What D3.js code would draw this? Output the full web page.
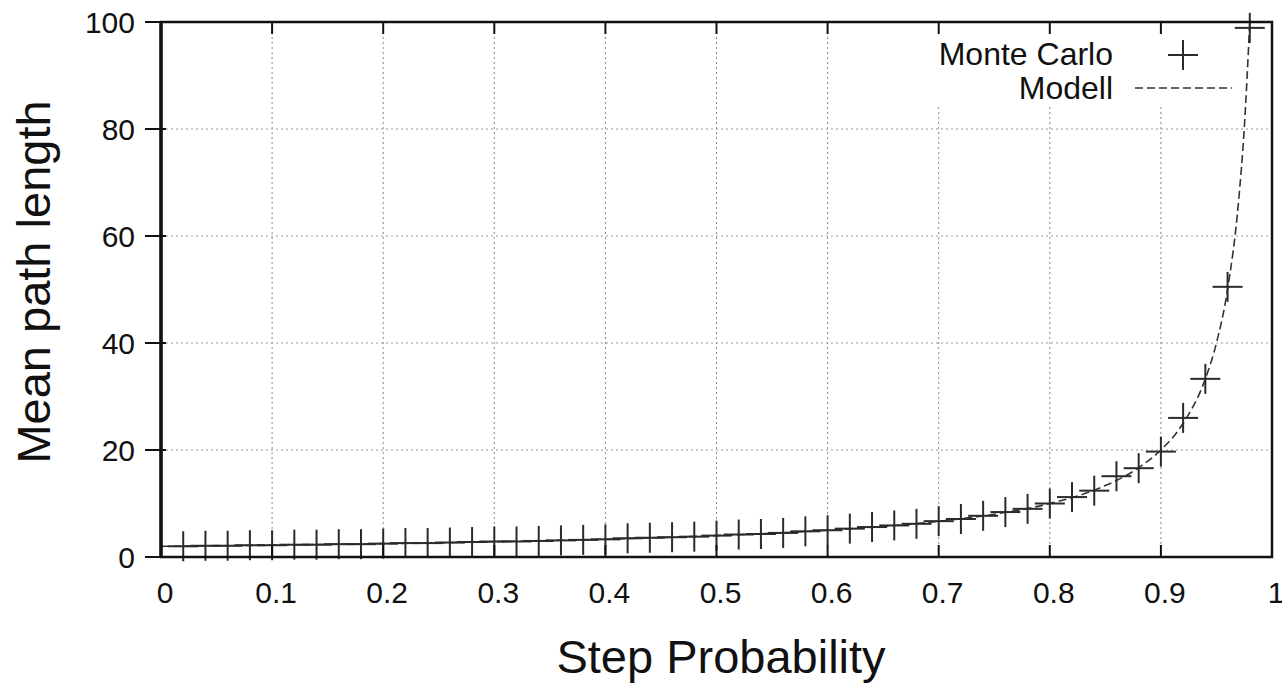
<!DOCTYPE html>
<html>
<head>
<meta charset="utf-8">
<script src="https://cdn.jsdelivr.net/npm/d3@7"></script>
<style>
  body { margin: 0; background: #fff; }
  text { font-family: "Liberation Sans", Arial, sans-serif; fill: #111; }
</style>
</head>
<body>
<div id="chart"></div>
<script>
// Monte Carlo estimates
const mcP = [0.02, 0.04, 0.06, 0.08, 0.10, 0.12, 0.14, 0.16, 0.18, 0.20,
             0.22, 0.24, 0.26, 0.28, 0.30, 0.32, 0.34, 0.36, 0.38, 0.40,
             0.42, 0.44, 0.46, 0.48, 0.50, 0.52, 0.54, 0.56, 0.58, 0.60,
             0.62, 0.64, 0.66, 0.68, 0.70, 0.72, 0.74, 0.76, 0.78, 0.80,
             0.82, 0.84, 0.86, 0.88, 0.90, 0.92, 0.94, 0.96, 0.98];
const mcLen = [2.0, 2.1, 2.1, 2.2, 2.2, 2.3, 2.3, 2.4, 2.4, 2.5,
               2.6, 2.6, 2.7, 2.8, 2.9, 2.9, 3.0, 3.1, 3.2, 3.3,
               3.5, 3.6, 3.7, 3.8, 4.0, 4.2, 4.3, 4.5, 4.8, 5.0,
               5.3, 5.6, 5.9, 6.2, 6.7, 7.1, 7.7, 8.4, 9.0, 10.0,
               11.2, 12.4, 15.1, 16.6, 19.7, 26.0, 33.3, 50.5, 98.9];

// Model curve
const modelP = [0, 0.1, 0.2, 0.3, 0.4, 0.5, 0.6, 0.65, 0.7, 0.75, 0.8, 0.84,
                0.88, 0.9, 0.92, 0.94, 0.95, 0.96, 0.97, 0.975, 0.98];
const modelLen = [2, 2.22, 2.5, 2.86, 3.33, 4, 5, 5.71, 6.67, 8, 10, 12.5,
                  16.7, 20, 25, 33.3, 40, 50, 66.7, 80, 100];

const xTicks = [0, 0.1, 0.2, 0.3, 0.4, 0.5, 0.6, 0.7, 0.8, 0.9, 1];
const yTicks = [0, 20, 40, 60, 80, 100];
const seriesNames = ["Monte Carlo", "Modell"];

const width = 1282, height = 683;
const margin = { top: 22, right: 10, bottom: 126, left: 161 };
const w = width - margin.left - margin.right;   // 1111
const h = height - margin.top - margin.bottom;  // 535

const svg = d3.select("#chart").append("svg")
    .attr("width", width)
    .attr("height", height);

const g = svg.append("g")
    .attr("transform", `translate(${margin.left},${margin.top})`);

const x = d3.scaleLinear().domain([0, 1]).range([0, w]);
const y = d3.scaleLinear().domain([0, 100]).range([h, 0]);

g.append("clipPath").attr("id", "plotclip")
  .append("rect").attr("width", w).attr("height", h);

// grid
g.selectAll(".vgrid")
    .data(xTicks.slice(1, -1))
    .enter().append("line")
    .attr("x1", d => x(d)).attr("x2", d => x(d))
    .attr("y1", 0).attr("y2", h)
    .attr("stroke", "#888").attr("stroke-width", 1)
    .attr("stroke-dasharray", "2,3");

g.selectAll(".hgrid")
    .data(yTicks.slice(1, -1))
    .enter().append("line")
    .attr("x1", 0).attr("x2", w)
    .attr("y1", d => y(d)).attr("y2", d => y(d))
    .attr("stroke", "#999").attr("stroke-width", 1)
    .attr("stroke-dasharray", "2,3");

// legend background hides the grid behind the key
g.append("rect")
    .attr("x", x(0.685)).attr("y", 1)
    .attr("width", x(0.985) - x(0.685)).attr("height", 82)
    .attr("fill", "#fff");

// model curve
const line = d3.line()
    .x((d, i) => x(modelP[i]))
    .y(d => y(d))
    .curve(d3.curveMonotoneX);

g.append("path")
    .datum(modelLen)
    .attr("clip-path", "url(#plotclip)")
    .attr("d", line)
    .attr("fill", "none")
    .attr("stroke", "#333")
    .attr("stroke-width", 1.6)
    .attr("stroke-dasharray", "8,4");

// monte carlo crosses
const arm = 15;
const crosses = g.selectAll(".mc")
    .data(mcLen)
    .enter().append("g")
    .attr("transform", (d, i) => `translate(${x(mcP[i])},${y(d)})`);
crosses.append("line").attr("x1", -arm).attr("x2", arm).attr("y1", 0).attr("y2", 0);
crosses.append("line").attr("x1", 0).attr("x2", 0).attr("y1", -arm).attr("y2", arm);
crosses.selectAll("line").attr("stroke", "#2a2a2a").attr("stroke-width", 2);

// ticks: x inward on top and bottom, y crossing the left axis
g.selectAll(".xtb")
    .data(xTicks.slice(1, -1))
    .enter().append("line")
    .attr("x1", d => x(d)).attr("x2", d => x(d))
    .attr("y1", h).attr("y2", h - 12)
    .attr("stroke", "#111").attr("stroke-width", 2);
g.selectAll(".xtt")
    .data(xTicks.slice(1, -1))
    .enter().append("line")
    .attr("x1", d => x(d)).attr("x2", d => x(d))
    .attr("y1", 0).attr("y2", 12)
    .attr("stroke", "#111").attr("stroke-width", 2);
g.selectAll(".yt")
    .data(yTicks)
    .enter().append("line")
    .attr("x1", -16).attr("x2", 5)
    .attr("y1", d => y(d)).attr("y2", d => y(d))
    .attr("stroke", "#111").attr("stroke-width", 2);

// frame
g.append("rect")
    .attr("width", w).attr("height", h)
    .attr("fill", "none")
    .attr("stroke", "#111")
    .attr("stroke-width", 2.5);
g.append("line")
    .attr("x1", 0).attr("x2", 0).attr("y1", 0).attr("y2", h)
    .attr("stroke", "#111").attr("stroke-width", 3.5);

// tick labels
g.selectAll(".xl")
    .data(xTicks)
    .enter().append("text")
    .attr("x", d => x(d) + 4)
    .attr("y", h + 46)
    .attr("text-anchor", "middle")
    .attr("font-size", 30)
    .text(d => d3.format("")(d));

g.selectAll(".yl")
    .data(yTicks)
    .enter().append("text")
    .attr("x", -26)
    .attr("y", d => y(d))
    .attr("dy", "0.35em")
    .attr("text-anchor", "end")
    .attr("font-size", 30)
    .text(d => d);

// axis titles
svg.append("text")
    .attr("x", 721).attr("y", 673)
    .attr("text-anchor", "middle")
    .attr("font-size", 47)
    .text("Step Probability");

svg.append("text")
    .attr("transform", "translate(50,282) rotate(-90)")
    .attr("text-anchor", "middle")
    .attr("font-size", 47)
    .text("Mean path length");

// legend
const legend = svg.append("g");
legend.selectAll("text")
    .data(seriesNames)
    .enter().append("text")
    .attr("x", 1113)
    .attr("y", (d, i) => 65 + i * 34)
    .attr("text-anchor", "end")
    .attr("font-size", 32)
    .text(d => d);

const key = legend.append("g").attr("transform", "translate(1183,55)");
key.append("line").attr("x1", -arm).attr("x2", arm).attr("y1", 0).attr("y2", 0);
key.append("line").attr("x1", 0).attr("x2", 0).attr("y1", -arm).attr("y2", arm);
key.selectAll("line").attr("stroke", "#2a2a2a").attr("stroke-width", 2);

legend.append("line")
    .attr("x1", 1135).attr("x2", 1232)
    .attr("y1", 88).attr("y2", 88)
    .attr("stroke", "#333").attr("stroke-width", 1.6)
    .attr("stroke-dasharray", "8,4");
</script>
</body>
</html>
